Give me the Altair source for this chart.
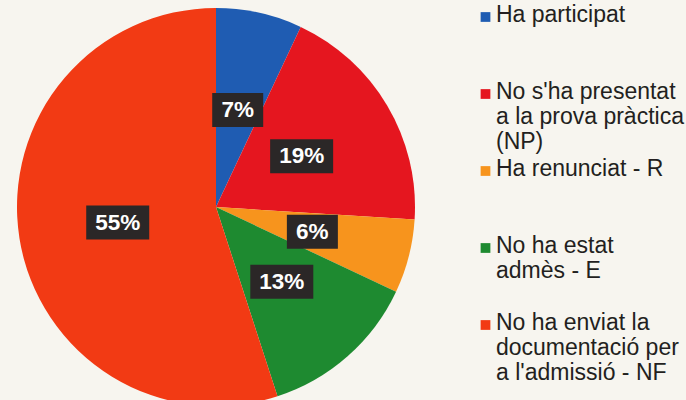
import altair as alt
import pandas as pd

categories = [
    "Ha participat",
    "No s'ha presentat a la prova pràctica (NP)",
    "Ha renunciat - R",
    "No ha estat admès - E",
    "No ha enviat la documentació per a l'admissió - NF",
]
legend_labels = [
    "Ha participat",
    "No s'ha presentat\na la prova pràctica\n(NP)",
    "Ha renunciat - R",
    "No ha estat\nadmès - E",
    "No ha enviat la\ndocumentació per\na l'admissió - NF",
]
values = [7, 19, 6, 13, 55]
pct_labels = ["7%", "19%", "6%", "13%", "55%"]
colors = ["#1f5cb2", "#e5161f", "#f7941d", "#1e8a30", "#f23a14"]

df = pd.DataFrame({
    "order": list(range(len(categories))),
    "category": categories,
    "legend": legend_labels,
    "value": values,
    "pct": pct_labels,
})

R = 199
CX, CY = 216, 207
FONT = "Liberation Sans, Arial, sans-serif"

xs = alt.Scale(domain=[-1, 1], range=[CX - R, CX + R])
ys = alt.Scale(domain=[-1, 1], range=[CY + R, CY - R])
cs = alt.Scale(domain=categories, range=colors)
legy = alt.Scale(domain=[0, 4], range=[4, 312])

base = alt.Chart(df)

pie = base.mark_arc(radius=R).encode(
    theta=alt.Theta("value:Q", stack=True),
    order=alt.Order("order:Q", sort="ascending"),
    color=alt.Color("category:N", scale=cs, legend=None),
    x=alt.XDatum(0, type="quantitative", scale=xs, axis=None),
    y=alt.YDatum(0, type="quantitative", scale=ys, axis=None),
)

lab = base.transform_joinaggregate(
    total="sum(value)"
).transform_window(
    cum="sum(value)", sort=[alt.SortField("order")], frame=[None, 0]
).transform_calculate(
    mid="(datum.cum - datum.value / 2) / datum.total * 2 * PI",
    lx="0.5 * sin(datum.mid)",
    ly="0.5 * cos(datum.mid)",
    hw="(6 * length(datum.pct) + 13.5) / 199",
    hh="17 / 199",
).transform_calculate(
    x1="datum.lx - datum.hw",
    x2="datum.lx + datum.hw",
    y1="datum.ly - datum.hh",
    y2="datum.ly + datum.hh",
)

boxes = lab.mark_rect(color="#2b2727").encode(
    x=alt.X("x1:Q", scale=xs, axis=None),
    x2="x2:Q",
    y=alt.Y("y1:Q", scale=ys, axis=None),
    y2="y2:Q",
)

texts = lab.mark_text(
    color="white", fontSize=22.5, fontWeight="bold", font=FONT, baseline="middle", align="center"
).encode(
    x=alt.X("lx:Q", scale=xs, axis=None),
    y=alt.Y("ly:Q", scale=ys, axis=None),
    text="pct:N",
)

leg_sym = base.mark_square(size=95, opacity=1, yOffset=13).encode(
    x=alt.value(485.5),
    y=alt.Y("order:Q", scale=legy, axis=None),
    color=alt.Color("category:N", scale=cs, legend=None),
)

leg_txt = base.mark_text(
    align="left", baseline="top", lineBreak="\n", lineHeight=25,
    fontSize=23, font=FONT, color="#231f20",
).encode(
    x=alt.value(496),
    y=alt.Y("order:Q", scale=legy, axis=None),
    text="legend:N",
)

chart = alt.layer(pie, boxes, texts, leg_sym, leg_txt).resolve_scale(
    x="independent", y="independent"
).properties(
    width=686, height=400, padding=0,
    autosize=alt.AutoSizeParams(type="none"),
    background="#f7f5ef",
).configure_view(stroke="transparent")

chart.save("out.html", embed_options={"renderer": "svg", "actions": False})
